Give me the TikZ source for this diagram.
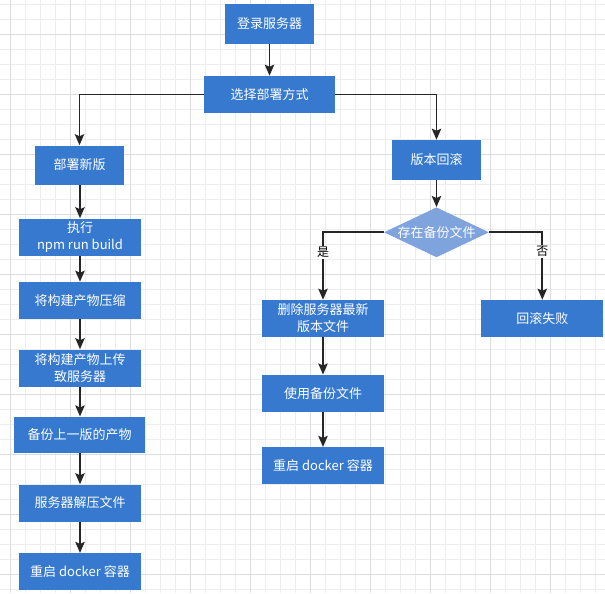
\documentclass[tikz,border=0pt]{standalone}
\usepackage{fontspec}
\setmainfont{Noto Sans CJK SC}
\usepackage{tikz}
\usetikzlibrary{shapes.geometric}
\usetikzlibrary{arrows.meta}
\definecolor{boxblue}{HTML}{3679CF}
\definecolor{decisionblue}{HTML}{7EA3DD}
\definecolor{gridminor}{HTML}{EDEDED}
\definecolor{gridmajor}{HTML}{DDDDDD}
\definecolor{linegray}{HTML}{262626}

\begin{document}
\begin{tikzpicture}[
    x=0.75pt, y=-0.75pt,
    process/.style={rectangle, fill=boxblue, text=white, align=center, inner sep=0pt,
        minimum width=91.5pt, minimum height=27.75pt, font=\fontsize{9.75}{12.75}\selectfont},
    decision/.style={diamond, fill=decisionblue, text=white, aspect=2.1, inner sep=0pt,
        minimum width=78.75pt, minimum height=37.5pt, font=\fontsize{9.75}{12.75}\selectfont},
    flow/.style={line width=1.4pt, draw=linegray, -{Stealth[length=8.25pt, width=7pt, inset=1.5pt]}},
    answer/.style={fill=white, text=black, inner sep=1pt, font=\fontsize{9}{11}\selectfont}
]

\useasboundingbox (0,0) rectangle (605,593);
\fill[white] (0,0) rectangle (605,593);

% Define grid
\foreach \i in {0,...,39} \draw[gridminor, line width=0.75pt] ({10.7+15*\i},0) -- ++(0,593);
\foreach \i in {0,...,39} \draw[gridminor, line width=0.75pt] (0,{4.3+15*\i}) -- ++(605,0);
\foreach \i in {0,...,9} \draw[gridmajor, line width=0.75pt] ({10.7+60*\i},0) -- ++(0,593);
\foreach \i in {0,...,9} \draw[gridmajor, line width=0.75pt] (0,{34.3+60*\i}) -- ++(605,0);

% Define nodes
\node[process, minimum width=66.75pt, minimum height=30pt] (login) at (269.5, 24) {登录服务器};
\node[process, minimum width=98.25pt] (choose) at (269.5, 94.5) {选择部署方式};
\node[process, minimum width=66.75pt, minimum height=29.25pt] (deploy) at (79.5, 165) {部署新版};
\node[process, minimum width=66.75pt, minimum height=30pt] (rollback) at (436.5, 160) {版本回滚};

\node[process] (build) at (80, 237) {执行\\npm run build};
\node[process] (compress) at (80, 300.5) {将构建产物压缩};
\node[process] (upload) at (80, 368) {将构建产物上传\\致服务器};
\node[process, minimum width=98.25pt, minimum height=27pt] (backup) at (79.5, 434.7) {备份上一版的产物};
\node[process] (unzip) at (80, 503) {服务器解压文件};
\node[process] (restart) at (80, 571.7) {重启 docker 容器};

\node[decision] (check) at (436.5, 232.3) {存在备份文件};
\node[process] (remove) at (323, 318.5) {删除服务器最新\\版本文件};
\node[process] (fail) at (542.3, 318.5) {回滚失败};
\node[process] (usebackup) at (323, 393.3) {使用备份文件};
\node[process] (restartb) at (323, 465.7) {重启 docker 容器};

% Define edges
\draw[flow] (login) -- (choose);
\draw[flow] (choose.west) -| (deploy.north);
\draw[flow] (choose.east) -| (rollback.north);

\draw[flow] (deploy.south -| build.north) -- (build);
\draw[flow] (build) -- (compress);
\draw[flow] (compress) -- (upload);
\draw[flow] (upload) -- (backup.north -| upload.south);
\draw[flow] (backup.south -| unzip.north) -- (unzip);
\draw[flow] (unzip) -- (restart);

\draw[flow] (rollback) -- (check);
\draw[flow] (check.west) -| node[answer, pos=0.65] {是} (remove.north);
\draw[flow] (check.east) -| node[answer, pos=0.64] {否} (fail.north);
\draw[flow] (remove) -- (usebackup);
\draw[flow] (usebackup) -- (restartb);

\end{tikzpicture}
\end{document}
